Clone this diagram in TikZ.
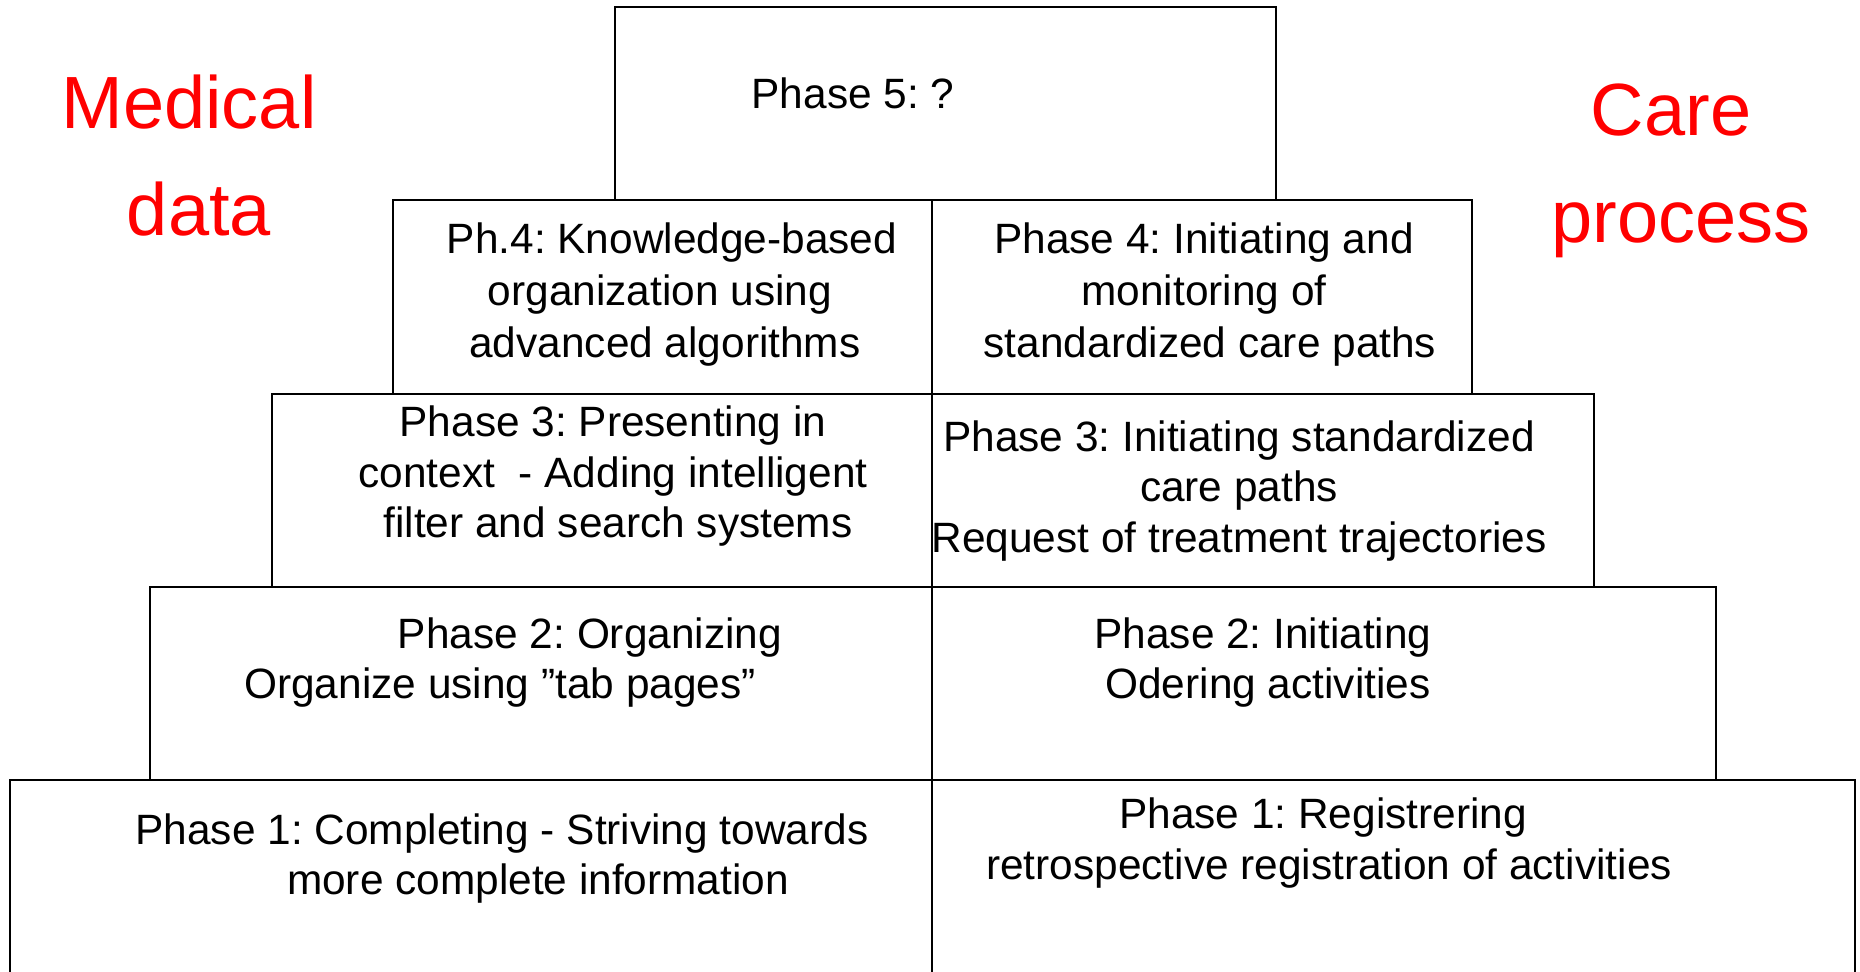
\documentclass[tikz,border=0pt]{standalone}
\usepackage{fontspec}
\setmainfont{Liberation Sans}
\frenchspacing
\begin{document}
\begin{tikzpicture}[x=0.5pt,y=-0.5pt,
  box/.style={draw=black,line width=1pt},
  txt/.style={anchor=base,inner sep=0pt,font=\fontsize{21.2}{25}\selectfont},
  big/.style={anchor=base,inner sep=0pt,text=red,font=\fontsize{37}{44}\selectfont}]
\useasboundingbox (0,0) rectangle (1860,971);
\clip (0,0) rectangle (1860,971);
\fill[white] (0,0) rectangle (1860,971);
% pyramid boxes
\draw[box] (615,7) rectangle (1276,200);
\draw[box] (393,200) rectangle (1472,394);
\draw[box] (272,394) rectangle (1594,587);
\draw[box] (150,587) rectangle (1716,780);
\draw[box] (10,780) rectangle (1855,1000);
\draw[box] (932,200) -- (932,1000);
% phase 5
\node[txt] (p5) at (853,108) {Phase 5: ?};
% phase 4
\node[txt] (p4la) at (672,253) {Ph.4: Knowledge-based};
\node[txt] (p4lb) at (660,305) {organization using};
\node[txt] (p4lc) at (665,357) {advanced algorithms};
\node[txt] (p4ra) at (1204,253) {Phase 4: Initiating and};
\node[txt] (p4rb) at (1204,305) {monitoring of};
\node[txt] (p4rc) at (1210,357) {standardized care paths};
% phase 3
\node[txt] (p3la) at (613,436) {Phase 3: Presenting in};
\node[txt] (p3lb) at (613,487) {context\ \ - Adding intelligent};
\node[txt] (p3lc) at (618,537) {filter and search systems};
\node[txt] (p3ra) at (1239,451) {Phase 3: Initiating standardized};
\node[txt] (p3rb) at (1239,501) {care paths};
\node[txt] (p3rc) at (1239,552) {Request of treatment trajectories};
% phase 2
\node[txt] (p2la) at (590,648) {Phase 2: Organizing};
\node[txt] (p2lb) at (500,698) {Organize using ”tab pages”};
\node[txt] (p2ra) at (1263,648) {Phase 2: Initiating};
\node[txt] (p2rb) at (1268,698) {Odering activities};
% phase 1
\node[txt] (p1la) at (502,844) {Phase 1: Completing - Striving towards};
\node[txt] (p1lb) at (538,894) {more complete information};
\node[txt] (p1ra) at (1323,828) {Phase 1: Registrering};
\node[txt] (p1rb) at (1329,879) {retrospective registration of activities};
% side titles
\node[big] (med) at (189,128) {Medical};
\node[big] (dat) at (199,235) {data};
\node[big] (care) at (1671,135) {Care};
\node[big] (proc) at (1681,242) {process};
\end{tikzpicture}
\end{document}
